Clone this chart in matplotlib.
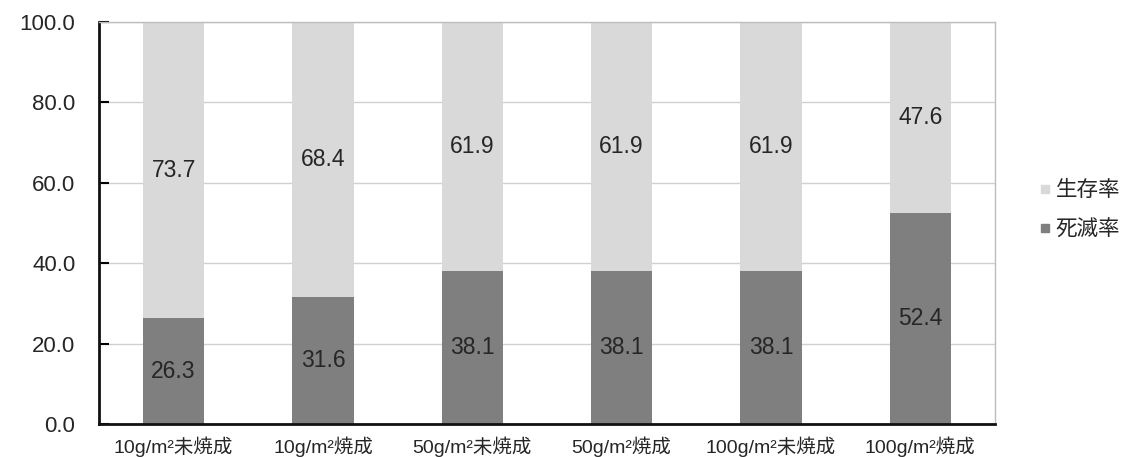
import matplotlib
matplotlib.use("Agg")
import matplotlib.pyplot as plt
from matplotlib.lines import Line2D

plt.rcParams['font.family'] = ['Liberation Sans', 'Noto Sans CJK JP', 'DejaVu Sans']

categories = ["10g/m²未焼成", "10g/m²焼成", "50g/m²未焼成", "50g/m²焼成", "100g/m²未焼成", "100g/m²焼成"]
death_rate = [26.3, 31.6, 38.1, 38.1, 38.1, 52.4]
survival_rate = [73.7, 68.4, 61.9, 61.9, 61.9, 47.6]
yticks = [0, 20, 40, 60, 80, 100]

dark = "#7f7f7f"
light = "#d9d9d9"
text_c = "#262626"

fig = plt.figure(figsize=(11.36, 4.57), dpi=100)
ax = fig.add_axes([0.0871, 0.0722, 0.7888, 0.880])

x = range(len(categories))
w = 0.41
ax.bar(x, death_rate, width=w, color=dark, zorder=2)
ax.bar(x, survival_rate, width=w, bottom=death_rate, color=light, zorder=2)

for i, (d, s) in enumerate(zip(death_rate, survival_rate)):
    ax.text(i, d / 2, f"{d:.1f}", ha="center", va="center", fontsize=16.5, color=text_c, zorder=3)
    ax.text(i, d + s / 2, f"{s:.1f}", ha="center", va="center", fontsize=16.5, color=text_c, zorder=3)

ax.set_xlim(-0.5, len(categories) - 0.5)
ax.set_ylim(0, 100)
ax.set_yticks(yticks)
ax.set_yticklabels([f"{v:.1f}" for v in yticks], fontsize=16, color=text_c)
ax.set_xticks(list(x))
ax.set_xticklabels(categories, fontsize=14, color=text_c)
ax.tick_params(axis="x", length=0, pad=9)
ax.tick_params(axis="y", direction="in", length=7, width=1.5, pad=17)

ax.yaxis.grid(True, color="#d0d0d0", linewidth=1, zorder=0)
ax.set_axisbelow(True)

for side in ("left", "bottom"):
    ax.spines[side].set_color("#111111")
    ax.spines[side].set_linewidth(2)
for side in ("top", "right"):
    ax.spines[side].set_color("#bdbdbd")
    ax.spines[side].set_linewidth(1)

handles = [
    Line2D([], [], marker="s", linestyle="none", markersize=6, color=light, label="生存率"),
    Line2D([], [], marker="s", linestyle="none", markersize=6, color=dark, label="死滅率"),
]
fig.legend(handles=handles, loc="center left", bbox_to_anchor=(0.895, 0.54), frameon=False,
           fontsize=15.5, handletextpad=0.1, labelspacing=0.85, handlelength=0.8,
           labelcolor=text_c)

fig.savefig("out.png", dpi=100)
